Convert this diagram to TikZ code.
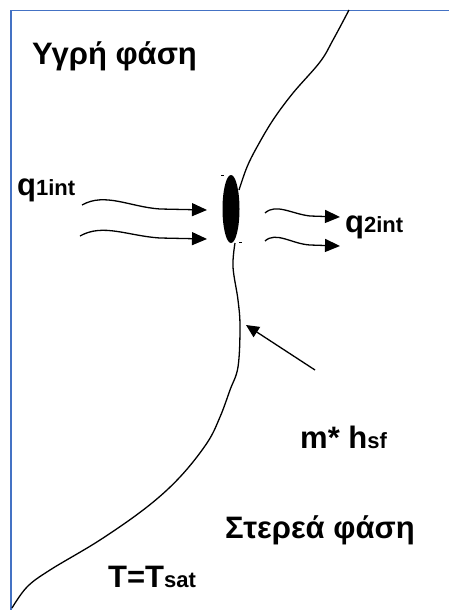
\documentclass[tikz,border=0pt]{standalone}
\usepackage{fontspec}
\setmainfont{Liberation Sans}
\usepackage{tikz}
\usetikzlibrary{arrows.meta,shapes.geometric}
\definecolor{framblue}{HTML}{4472C4}
\newcommand{\smalltxt}[1]{{\fontsize{22}{22}\selectfont #1}}
\tikzset{
  ph/lbl/.style={font=\bfseries\fontsize{31}{31}\selectfont, inner sep=0pt, anchor=base west},
  ph/arr/.style={-{Triangle[length=15pt,width=13pt]}, black, line width=1.3pt},
  ph/arrs/.style={-{Triangle[length=13pt,width=12pt]}, black, line width=1.3pt},
  ph/line/.style={black, line width=1.3pt}
}
\begin{document}
\begin{tikzpicture}[x=1pt, y=-1pt]
  \useasboundingbox (0,0) rectangle (449,610);

  % --- Rahmen ---
  \draw[framblue, line width=1.7pt] (11,610) -- (11,10.5) -- (449,10.5);

  % --- Grenzflaeche ---
  \draw[ph/line] plot[smooth, tension=0.6] coordinates {
    (349,10) (333,40) (320,62) (293,93) (273,120) (257,147) (247,167) (239,190)};
  \draw[ph/line] plot[smooth, tension=0.6] coordinates {
    (235,243) (233,267) (238,300) (240,327) (238,367) (230,390) (220,417)
    (207,443) (180,477) (147,507) (100,540) (50,570) (27,587) (12,608)};
  \node[ellipse, fill=black, minimum width=17pt, minimum height=68pt, inner sep=0pt]
    (drop) at (231,209) {};
  \draw[line width=0.8pt] (221,175) -- (224,175);
  \draw[line width=0.8pt] (239,242) -- (242,242);

  % --- Beschriftungen ---
  \node[ph/lbl] (liq) at (32,65) {Υγρή φάση};
  \node[ph/lbl] (qin) at (17,195) {q\smalltxt{1int}};
  \node[ph/lbl] (qout) at (345,232) {q\smalltxt{2int}};
  \node[ph/lbl] (mh) at (300,448) {m* h\smalltxt{sf}};
  \node[ph/lbl] (sol) at (225,538) {Στερεά φάση};
  \node[ph/lbl] (tsat) at (108,587) {T=T\smalltxt{sat}};

  % --- Waermestroeme ---
  \coordinate (q1a) at (82,205);
  \coordinate (q1b) at (207,210);
  \coordinate (q2a) at (80,236);
  \coordinate (q2b) at (207,239);
  \coordinate (q3a) at (265,213);
  \coordinate (q3b) at (340,217);
  \coordinate (q4a) at (265,241);
  \coordinate (q4b) at (340,246);
  \coordinate (mstart) at (315,370);
  \coordinate (iface) at (246,325);

  \draw[ph/arr] (q1a) .. controls (105,192) and (130,207) .. (160,209) -- (q1b);
  \draw[ph/arr] (q2a) .. controls (103,223) and (128,236) .. (160,238) -- (q2b);
  \draw[ph/arr] (q3a) .. controls (276,203) and (292,214) .. (310,216) -- (q3b);
  \draw[ph/arr] (q4a) .. controls (276,231) and (292,244) .. (310,245) -- (q4b);
  \draw[ph/arrs] (mstart) -- (iface);
\end{tikzpicture}
\end{document}
